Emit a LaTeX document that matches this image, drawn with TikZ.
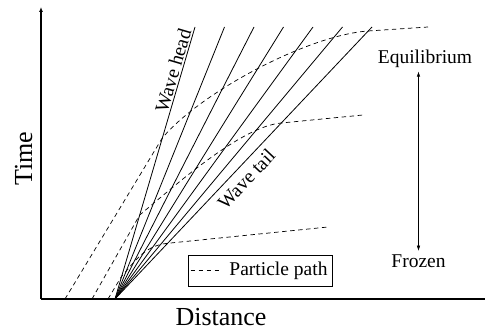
\documentclass[tikz,border=0pt]{standalone}
\usepackage{fontspec}
\setmainfont{Liberation Serif}
\usetikzlibrary{arrows.meta}
\tikzset{
  axis/.style={line width=1.2pt},
  fanline/.style={line width=0.8pt},
  particle/.style={line width=0.7pt,dash pattern=on 4.5pt off 3.5pt},
  biglbl/.style={font=\fontsize{26}{30}\selectfont,inner sep=0pt},
  lbl/.style={font=\fontsize{19.5}{23}\selectfont},
  legendbox/.style={draw,line width=0.8pt,inner xsep=5pt,minimum height=31pt,
    font=\fontsize{19.5}{23}\selectfont},
  uptip/.style={-{Latex[length=5pt,width=4pt]}},
  bothtips/.style={{Latex[length=5pt,width=3.5pt]}-{Latex[length=5pt,width=3.5pt]}},
}
\begin{document}
\begin{tikzpicture}[x=10pt,y=10pt]
  \useasboundingbox (-4.1,-3.1) rectangle (44.4,29.9);
  % axes
  \coordinate (orig) at (0,0);
  \draw[axis,uptip] (orig) -- (0,29.2) coordinate (ytop);
  \draw[axis] (orig) -- (44.4,0) coordinate (xend);
  \node[biglbl,rotate=90,anchor=base] (time) at (-0.9,14.05) {Time};
  \node[biglbl,anchor=base] (dist) at (18.0,-2.6) {Distance};
  % expansion fan
  \coordinate (O) at (7.4,0);
  \foreach \i in {0,...,6}
    \draw[fanline] (O) -- (15.4+2.95*\i,27.2) coordinate (f\i);
  \path (O) -- (f0) node[lbl,pos=0.83,sloped,above,inner sep=1.5pt] (head) {Wave head};
  \path (O) -- (f6) node[lbl,pos=0.474,sloped,below,inner sep=6pt] (tail) {Wave tail};
  % particle paths
  \draw[particle] (2.4,0) -- (12.13,16.1)
    .. controls (15.99,20.7) and (26.72,26.38) .. (32.7,26.8) -- (38.7,27.2);
  \draw[particle] (5.1,0) -- (9.87,8.4)
    .. controls (13.7,11.61) and (20.05,17.25) .. (24.03,17.6) -- (32.2,18.4);
  \draw[particle] (6.7,0) -- (8.07,2.29)
    .. controls (9.13,3.35) and (10.17,5.35) .. (12.66,5.57) -- (28.7,7.2);
  % legend
  \node[legendbox] (legend) at (21.95,2.85) {\hspace*{36pt}Particle path};
  \draw[particle] ([xshift=2.5pt]legend.west) -- ++(3.2,0);
  % equilibrium / frozen
  \node[lbl,anchor=base] (equil) at (38.4,23.5) {Equilibrium};
  \node[lbl,anchor=base] (frozen) at (37.75,3.2) {Frozen};
  \draw[bothtips] (frozen.north) -- (frozen.north |- equil.south);
\end{tikzpicture}
\end{document}
